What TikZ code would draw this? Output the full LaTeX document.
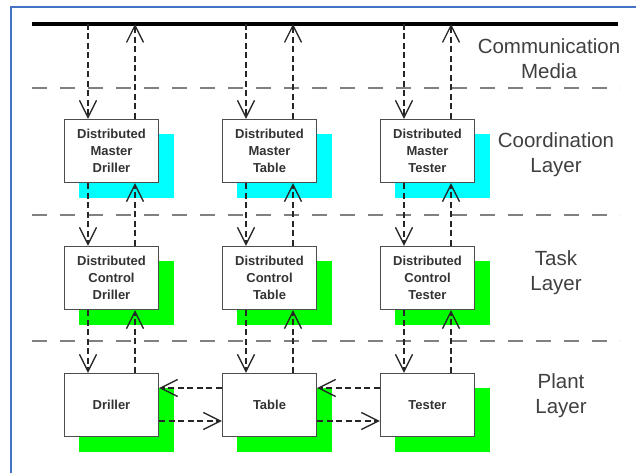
\documentclass[tikz,border=0pt]{standalone}
\usepackage{fontspec}
\setmainfont{Liberation Sans}
\usetikzlibrary{arrows.meta}
\definecolor{frameblue}{HTML}{4472C4}
\definecolor{sepgray}{HTML}{808080}
\definecolor{labelgray}{HTML}{404040}
\definecolor{boxedge}{HTML}{4D4D4D}
\definecolor{arrowink}{HTML}{262626}
\definecolor{shadowcyan}{HTML}{00FFFF}
\definecolor{shadowgreen}{HTML}{00FF00}
\begin{document}
\begin{tikzpicture}[x=1pt,y=-1pt,
  unit box/.style={draw=boxedge, line width=1.4pt, fill=white,
    minimum width=94pt, minimum height=63pt, inner sep=0pt, align=center,
    text=black!80, font=\fontsize{13}{17}\selectfont\bfseries},
  shade box/.style={minimum width=95pt, minimum height=64pt, inner sep=0pt,
    fill=#1, draw=none},
  layer label/.style={align=center, text=labelgray,
    font=\fontsize{20.5}{25}\selectfont},
  separator/.style={sepgray, line width=1.5pt, dash pattern=on 15pt off 13pt},
  msg/.style={arrowink, line width=1.3pt, dash pattern=on 6pt off 3.5pt,
    arrows={-Straight Barb[length=17pt,width=17pt]}},
]
\useasboundingbox (0,0) rectangle (636,473);

% outer frame
\draw[frameblue, line width=1.2pt] (11,473) -- (11,7) -- (636,7);

% layer separators
\foreach \yy in {88,215,341}
  \draw[separator] (32,\yy) -- (620,\yy);

% communication bus
\coordinate (busL) at (32,24);
\coordinate (busR) at (618,24);
\draw[black, line width=4pt] (busL) -- (busR);

% drop shadows
\foreach \cx in {111.5,269.5,427.5}{
  \node[shade box=shadowcyan]  at (\cx+15,151+15) {};
  \node[shade box=shadowgreen] at (\cx+15,278+15) {};
  \node[shade box=shadowgreen] at (\cx+15,405+15) {};
}

% coordination layer
\node[unit box] (m1) at (111.5,151) {Distributed\\Master\\Driller};
\node[unit box] (m2) at (269.5,151) {Distributed\\Master\\Table};
\node[unit box] (m3) at (427.5,151) {Distributed\\Master\\Tester};

% task layer
\node[unit box] (c1) at (111.5,278) {Distributed\\Control\\Driller};
\node[unit box] (c2) at (269.5,278) {Distributed\\Control\\Table};
\node[unit box] (c3) at (427.5,278) {Distributed\\Control\\Tester};

% plant layer
\node[unit box] (p1) at (111.5,405) {Driller};
\node[unit box] (p2) at (269.5,405) {Table};
\node[unit box] (p3) at (427.5,405) {Tester};

% layer names
\node[layer label] (lcomm)  at (549,59)  {Communication\\Media};
\node[layer label] (lcoord) at (556,155) {Coordination\\Layer};
\node[layer label] (ltask)  at (556,273) {Task\\Layer};
\node[layer label] (lplant) at (561,396) {Plant\\Layer};

% vertical message flows
\foreach \i in {1,2,3}{
  \coordinate (down\i) at ([xshift=-23.5pt]m\i.north);
  \coordinate (up\i)   at ([xshift=23.5pt]m\i.north);
  \draw[msg] (down\i |- busL) -- (down\i);
  \draw[msg] (up\i) -- (up\i |- busL);
  \draw[msg] ([xshift=-23.5pt]m\i.south) -- ([xshift=-23.5pt]c\i.north);
  \draw[msg] ([xshift=23.5pt]c\i.north) -- ([xshift=23.5pt]m\i.south);
  \draw[msg] ([xshift=-23.5pt]c\i.south) -- ([xshift=-23.5pt]p\i.north);
  \draw[msg] ([xshift=23.5pt]p\i.north) -- ([xshift=23.5pt]c\i.south);
}

% plant-level exchanges
\draw[msg] ([yshift=17pt]p2.west) -- ([yshift=17pt]p1.east);
\draw[msg] ([yshift=-16pt]p1.east) -- ([yshift=-16pt]p2.west);
\draw[msg] ([yshift=17pt]p3.west) -- ([yshift=17pt]p2.east);
\draw[msg] ([yshift=-16pt]p2.east) -- ([yshift=-16pt]p3.west);
\end{tikzpicture}
\end{document}
